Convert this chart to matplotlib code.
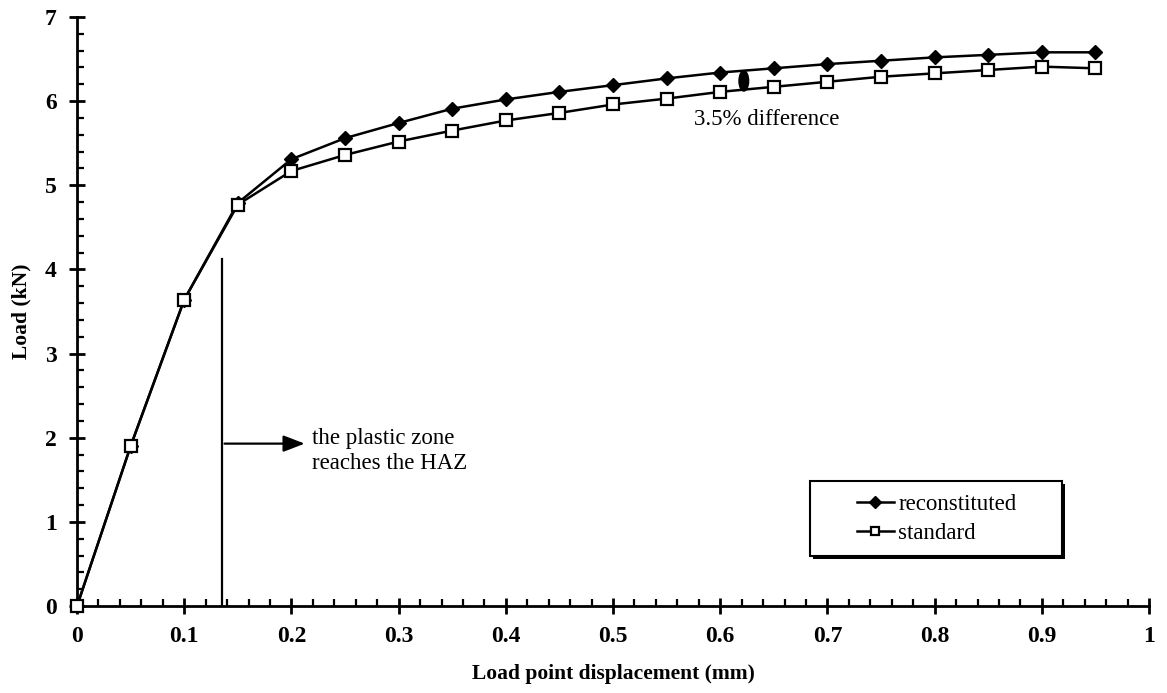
import matplotlib.pyplot as plt
from matplotlib.patches import Ellipse, Rectangle
from matplotlib.ticker import MultipleLocator

# displacement (mm) and load (kN)
disp = [0, 0.05, 0.1, 0.15, 0.2, 0.25, 0.3, 0.35, 0.4, 0.45,
        0.5, 0.55, 0.6, 0.65, 0.7, 0.75, 0.8, 0.85, 0.9, 0.95]
reconstituted = [0, 1.90, 3.64, 4.79, 5.31, 5.56, 5.74, 5.91, 6.02, 6.11,
                 6.19, 6.27, 6.34, 6.39, 6.44, 6.48, 6.52, 6.55, 6.58, 6.58]
standard = [0, 1.90, 3.64, 4.77, 5.17, 5.36, 5.52, 5.65, 5.77, 5.86,
            5.96, 6.03, 6.11, 6.17, 6.23, 6.29, 6.33, 6.37, 6.41, 6.39]
xtick_labels = ['0', '0.1', '0.2', '0.3', '0.4', '0.5', '0.6', '0.7', '0.8', '0.9', '1']

plt.rcParams['font.family'] = ['Liberation Serif', 'DejaVu Serif']

fig = plt.figure(figsize=(11.67, 6.93), dpi=100)
ax = fig.add_axes([0.066, 0.1255, 0.9186, 0.85])

ax.plot(disp, reconstituted, color='black', lw=1.8, marker='D', ms=7,
        mfc='black', mec='black', label='reconstituted', zorder=3, clip_on=False)
ax.plot(disp, standard, color='black', lw=1.8, marker='s', ms=8,
        mfc='white', mec='black', mew=1.6, label='standard', zorder=4, clip_on=False)

ax.set_xlim(0, 1)
ax.set_ylim(0, 7)
ax.set_xticks([i / 10 for i in range(11)])
ax.set_xticklabels(xtick_labels)
ax.xaxis.set_minor_locator(MultipleLocator(0.02))
ax.yaxis.set_major_locator(MultipleLocator(1))
ax.yaxis.set_minor_locator(MultipleLocator(0.2))

for s in ['top', 'right']:
    ax.spines[s].set_visible(False)
for s in ['left', 'bottom']:
    ax.spines[s].set_linewidth(2)

ax.tick_params(which='major', direction='inout', length=11, width=2,
               labelsize=17, pad=9)
ax.tick_params(which='minor', direction='in', length=5, width=1.6)
for lbl in ax.get_xticklabels() + ax.get_yticklabels():
    lbl.set_fontweight('bold')

ax.set_xlabel('Load point displacement (mm)', fontsize=15.5, fontweight='bold', labelpad=12)
ax.set_ylabel('Load (kN)', fontsize=15.5, fontweight='bold', labelpad=10)

# plastic zone marker
ax.plot([0.135, 0.135], [0, 4.12], color='black', lw=1.6)
ax.annotate('', xy=(0.215, 1.93), xytext=(0.135, 1.93),
            arrowprops=dict(arrowstyle='-|>,head_length=1.3,head_width=0.5',
                            color='black', lw=1.6))
ax.text(0.219, 1.84, 'the plastic zone\nreaches the HAZ', fontsize=16.5,
        va='center', ha='left', linespacing=1.25)

# difference marker
ax.add_patch(Ellipse((0.622, 6.24), 0.009, 0.24, color='black', zorder=5))
ax.text(0.576, 5.78, '3.5% difference', fontsize=16.5, va='center', ha='left')

# legend box with shadow
ax.add_patch(Rectangle((0.6865, 0.0805), 0.235, 0.127, transform=ax.transAxes,
                       facecolor='black', edgecolor='none', zorder=6))
ax.add_patch(Rectangle((0.684, 0.085), 0.235, 0.127, transform=ax.transAxes,
                       facecolor='white', edgecolor='black', lw=1.5, zorder=7))
leg = ax.legend(loc='center left', bbox_to_anchor=(0.7276, 0.1485), fontsize=16.5,
                frameon=False, handlelength=1.6, borderpad=0, labelspacing=0.35,
                handletextpad=0.2, borderaxespad=0)
leg.set_zorder(8)
for h in leg.legend_handles:
    h.set_markersize(6)

fig.savefig('out.png', dpi=100)
